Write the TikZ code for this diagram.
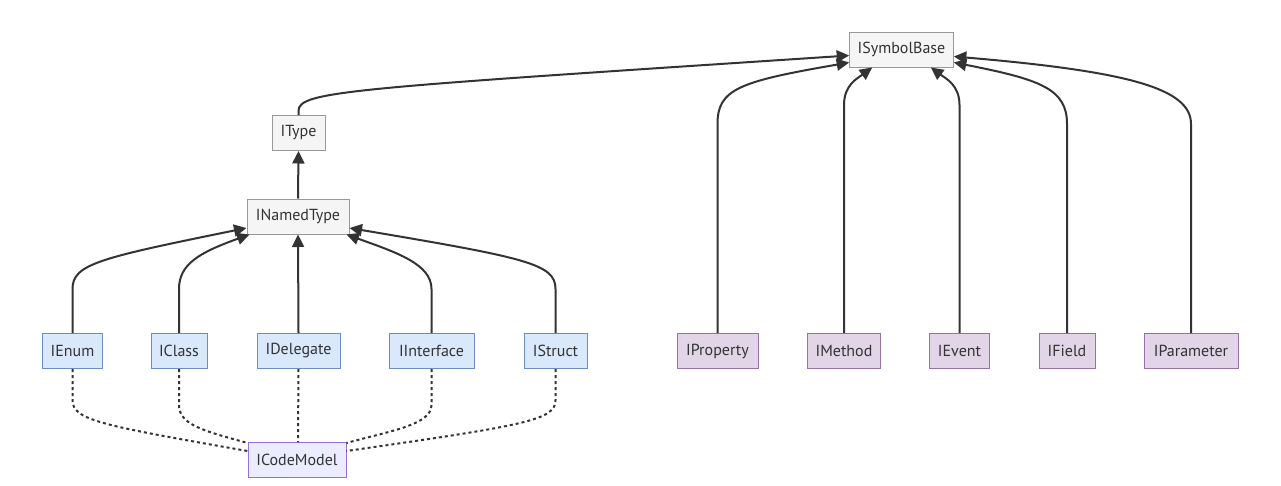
\documentclass[tikz,border=0pt]{standalone}
\usepackage{fontspec}
\setmainfont{PT Sans}
\usetikzlibrary{arrows.meta,calc}
\definecolor{edge}{HTML}{333333}
\definecolor{gfill}{HTML}{F5F5F5}
\definecolor{gline}{HTML}{999999}
\definecolor{bfill}{HTML}{DAE8FC}
\definecolor{bline}{HTML}{6C8EBF}
\definecolor{pfill}{HTML}{E1D5E7}
\definecolor{pline}{HTML}{9673A6}
\definecolor{cfill}{HTML}{ECECFF}
\definecolor{cline}{HTML}{9370DB}
\definecolor{txt}{HTML}{333333}
\tikzset{
  box/.style={draw, line width=1pt, minimum height=35pt, inner xsep=8pt, inner ysep=0pt,
    font=\fontsize{16}{18}\selectfont, text=txt, anchor=center},
  gbox/.style={box, fill=gfill, draw=gline},
  bbox/.style={box, fill=bfill, draw=bline},
  pbox/.style={box, fill=pfill, draw=pline},
  cbox/.style={box, fill=cfill, draw=cline},
  inh/.style={draw=edge, line width=2pt, -{Triangle[length=12.5pt,width=12pt]}},
  dep/.style={draw=edge, line width=2pt, dash pattern=on 3pt off 3pt},
}
\begin{document}
\begin{tikzpicture}[x=1pt,y=-1pt]
\useasboundingbox (0,0) rectangle (1281,485);
\node[gbox, minimum width=103pt] (sb) at (901.5,49.5) {ISymbolBase};
\node[gbox, minimum width=53pt] (it) at (298.5,133) {IType};
\node[gbox, minimum width=102pt] (nt) at (298,216.5) {INamedType};
\node[bbox, minimum width=59pt] (en) at (72.5,351) {IEnum};
\node[bbox, minimum width=56pt] (cl) at (179,351) {IClass};
\node[bbox, minimum width=83pt] (de) at (298.5,351) {IDelegate};
\node[bbox, minimum width=85pt] (in) at (431.5,351) {IInterface};
\node[bbox, minimum width=63pt] (st) at (555.5,351) {IStruct};
\node[cbox, minimum width=98pt] (cm) at (297,460) {ICodeModel};
\node[pbox, minimum width=81pt] (pr) at (717.5,351) {IProperty};
\node[pbox, minimum width=72pt] (me) at (844,351) {IMethod};
\node[pbox, minimum width=59pt] (ev) at (959.5,351) {IEvent};
\node[pbox, minimum width=56pt] (fi) at (1067,351) {IField};
\node[pbox, minimum width=94pt] (pa) at (1191,351) {IParameter};

% to ISymbolBase
\draw[inh] (it.north) -- ++(0,-4) .. controls +(0,-20) and +(-500,33) .. ([yshift=-6pt]sb.west);
\draw[inh] (pr.north) -- ++(0,-209) .. controls +(0,-35) and +(-110,19) .. ([yshift=-13pt]sb.west);
\draw[inh] (me.north) -- ++(0,-228) .. controls +(0,-20) and +(-15,11) .. ([xshift=23pt]sb.south west);
\draw[inh] (ev.north) -- ++(0,-228) .. controls +(0,-20) and +(15,11) .. ([xshift=-23pt]sb.south east);
\draw[inh] (fi.north) -- ++(0,-209) .. controls +(0,-35) and +(87,17) .. ([yshift=-13pt]sb.east);
\draw[inh] (pa.north) -- ++(0,-209) .. controls +(0,-35) and +(177,15) .. ([yshift=-7pt]sb.east);

% to IType / INamedType
\draw[inh] (nt.north) -- (it.south);
\draw[inh] (en.north) -- ++(0,-44) .. controls +(0,-25) and +(-147,30) .. ([yshift=-11.5pt]nt.west);
\draw[inh] (cl.north) -- ++(0,-44) .. controls +(0,-25) and +(-50,18) .. ([xshift=3pt]nt.south west);
\draw[inh] (de.north) -- (nt.south);
\draw[inh] (in.north) -- ++(0,-44) .. controls +(0,-25) and +(50,18) .. ([xshift=-3pt]nt.south east);
\draw[inh] (st.north) -- ++(0,-44) .. controls +(0,-25) and +(178,30) .. ([yshift=-11.5pt]nt.east);

% ICodeModel dependencies
\draw[dep] (en.south) -- ++(0,31) .. controls +(0,20) and +(-148,-26) .. ([yshift=9pt]cm.west);
\draw[dep] (cl.south) -- ++(0,36) .. controls +(0,20) and +(-43,-12) .. ([yshift=-1pt]cm.north west);
\draw[dep] (de.south) -- ([xshift=1pt]cm.north);
\draw[dep] (in.south) -- ++(0,36) .. controls +(0,20) and +(43,-12) .. ([yshift=-1pt]cm.north east);
\draw[dep] (st.south) -- ++(0,31) .. controls +(0,20) and +(181,-26) .. ([yshift=9pt]cm.east);
\end{tikzpicture}
\end{document}
